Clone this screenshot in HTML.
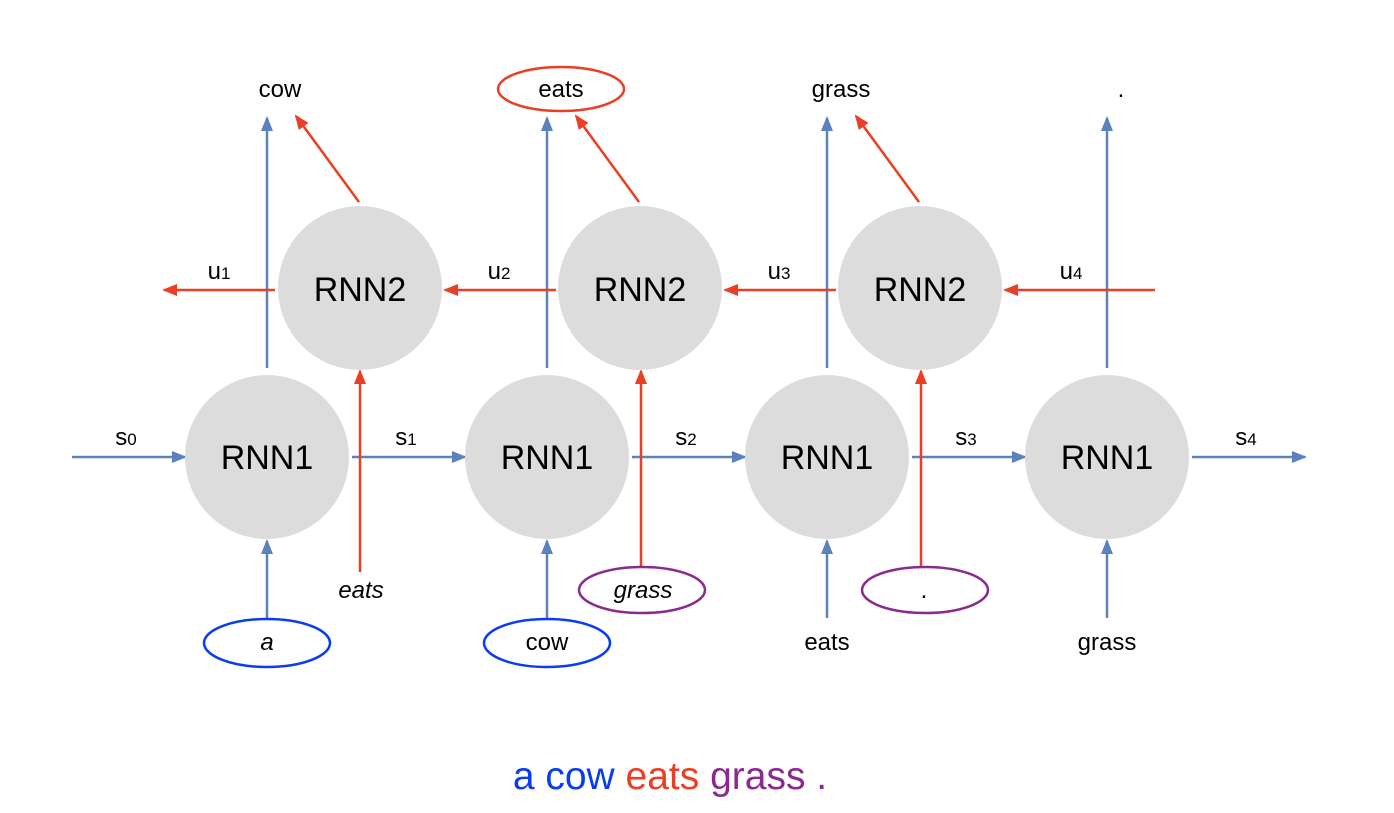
<!DOCTYPE html>
<html><head><style>body{margin:0;background:#fff}</style></head><body>
<svg width="1394" height="808" xmlns="http://www.w3.org/2000/svg" font-family="Liberation Sans, Arial, sans-serif">
<defs>
<marker id="b" markerWidth="16" markerHeight="14" refX="13" refY="6" orient="auto" markerUnits="userSpaceOnUse"><path d="M0,0 L15,6 L0,12 z" fill="#5b82be"/></marker>
<marker id="r" markerWidth="16" markerHeight="14" refX="13" refY="6" orient="auto" markerUnits="userSpaceOnUse"><path d="M0,0 L15,6 L0,12 z" fill="#ea3f24"/></marker>
</defs>
<g stroke-width="2.5" fill="none">
<g stroke="#5b82be" marker-end="url(#b)">
<line x1="267" y1="368" x2="267" y2="118"/><line x1="547" y1="368" x2="547" y2="118"/><line x1="827" y1="368" x2="827" y2="118"/><line x1="1107" y1="368" x2="1107" y2="118"/>
<line x1="72" y1="457" x2="185" y2="457"/><line x1="352" y1="457" x2="465" y2="457"/><line x1="632" y1="457" x2="745" y2="457"/><line x1="912" y1="457" x2="1025" y2="457"/><line x1="1192" y1="457" x2="1305" y2="457"/>
<line x1="267" y1="618" x2="267" y2="541"/><line x1="547" y1="618" x2="547" y2="541"/><line x1="827" y1="618" x2="827" y2="541"/><line x1="1107" y1="618" x2="1107" y2="541"/>
</g>
<g stroke="#ea3f24" marker-end="url(#r)">
<line x1="275" y1="290" x2="164" y2="290"/><line x1="556" y1="290" x2="445" y2="290"/><line x1="836" y1="290" x2="725" y2="290"/><line x1="1155" y1="290" x2="1005" y2="290"/>
<line x1="360" y1="572" x2="360" y2="371"/><line x1="641" y1="566" x2="641" y2="371"/><line x1="921" y1="566" x2="921" y2="371"/>
<line x1="359" y1="202" x2="296" y2="116"/><line x1="639" y1="202" x2="576" y2="116"/><line x1="919" y1="202" x2="856" y2="116"/>
</g>
</g>
<g fill="#dcdcdc">
<circle cx="267" cy="457" r="82"/><circle cx="547" cy="457" r="82"/><circle cx="827" cy="457" r="82"/><circle cx="1107" cy="457" r="82"/>
<circle cx="360" cy="288" r="82"/><circle cx="640" cy="288" r="82"/><circle cx="920" cy="288" r="82"/>
</g>
<g font-size="34" text-anchor="middle" fill="#000">
<text x="267" y="469">RNN1</text><text x="547" y="469">RNN1</text><text x="827" y="469">RNN1</text><text x="1107" y="469">RNN1</text>
<text x="360" y="301">RNN2</text><text x="640" y="301">RNN2</text><text x="920" y="301">RNN2</text>
</g>
<g fill="none" stroke-width="2.5">
<ellipse cx="267" cy="643" rx="63" ry="24" stroke="#0a3cf0"/>
<ellipse cx="547" cy="643" rx="63" ry="24" stroke="#0a3cf0"/>
<ellipse cx="642" cy="590" rx="63" ry="23" stroke="#8a2a8e"/>
<ellipse cx="925" cy="590" rx="63" ry="23" stroke="#8a2a8e"/>
<ellipse cx="561" cy="89" rx="63" ry="22" stroke="#ea3f24"/>
</g>
<g font-size="24" text-anchor="middle" fill="#000">
<text x="280" y="97">cow</text><text x="561" y="97">eats</text><text x="841" y="97">grass</text><text x="1121" y="97">.</text>
<text x="267" y="650" font-style="italic">a</text><text x="547" y="650">cow</text><text x="827" y="650">eats</text><text x="1107" y="650">grass</text>
<text x="361" y="598" font-style="italic">eats</text><text x="643" y="598" font-style="italic">grass</text><text x="925" y="598" font-style="italic">.</text>
<text x="126" y="445">s<tspan font-size="17">0</tspan></text><text x="406" y="445">s<tspan font-size="17">1</tspan></text><text x="686" y="445">s<tspan font-size="17">2</tspan></text><text x="966" y="445">s<tspan font-size="17">3</tspan></text><text x="1246" y="445">s<tspan font-size="17">4</tspan></text>
<text x="219" y="279">u<tspan font-size="17">1</tspan></text><text x="499" y="279">u<tspan font-size="17">2</tspan></text><text x="779" y="279">u<tspan font-size="17">3</tspan></text><text x="1071" y="279">u<tspan font-size="17">4</tspan></text>
</g>
<text x="670" y="789" font-size="39" text-anchor="middle"><tspan fill="#0a3cf0">a cow </tspan><tspan fill="#ea3f24">eats </tspan><tspan fill="#8a2a8e">grass .</tspan></text>
</svg>
</body></html>
